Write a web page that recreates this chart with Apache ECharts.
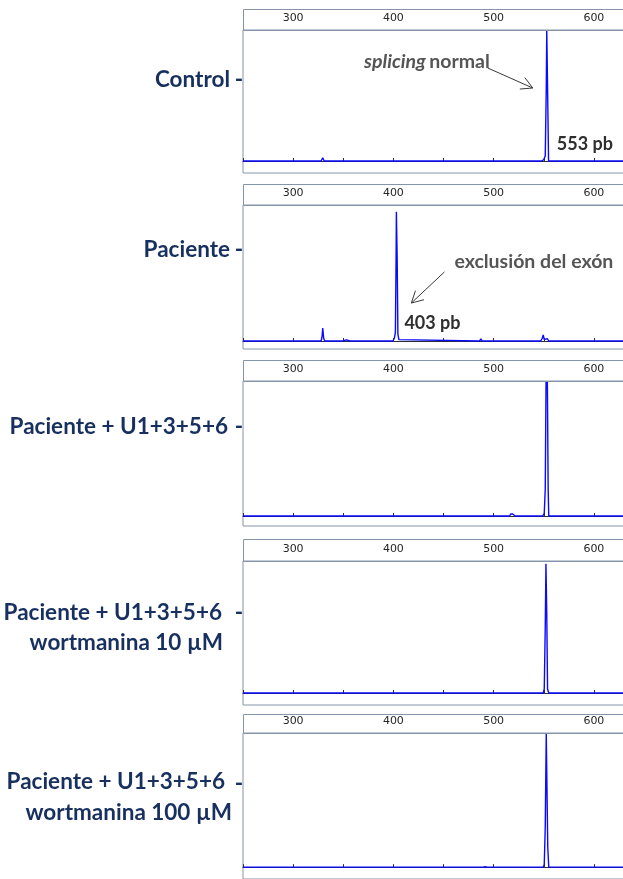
<!DOCTYPE html>
<html>
<head>
<meta charset="utf-8">
<script src="https://cdn.jsdelivr.net/npm/echarts@6/dist/echarts.min.js"></script>
<style>
  html, body { margin: 0; padding: 0; background: #fff; overflow: hidden; }
  #chart { width: 680px; height: 879px; }
</style>
</head>
<body>
<div id="chart"></div>
<script>
// Fragment size axis (pb) and tick labels
const sizeMin = 250;
const sizeMax = 650;
const tickLabels = [300, 400, 500, 600];

// Sample names shown to the left of each electropherogram
const sampleLabels = [
  ['Control'],
  ['Paciente'],
  ['Paciente + U1+3+5+6'],
  ['Paciente + U1+3+5+6', 'wortmanina 10 µM'],
  ['Paciente + U1+3+5+6', 'wortmanina 100 µM']
];

// Electropherogram traces: [fragment size (pb), relative fluorescence]
const traceControl = [
  [250, 0], [328, 0], [329.5, 2.5], [331, 0], [387, 0], [388, 1], [389, 0],
  [401, 0], [402.5, 1.5], [404, 0], [412.5, 0], [413.5, 1], [414.5, 0],
  [443, 0], [444, 0.5], [445, 0], [492, 0], [493, 1.5], [494.5, 0],
  [548, 0], [550, 1], [551.5, 4], [552.5, 55], [553, 100], [554, 45], [554.8, 0],
  [650, 0]
];
const tracePaciente = [
  [250, 0], [255, 0], [256, 0.5], [257, 0], [328, 0], [329, 4], [329.5, 9.5],
  [330.5, 2], [331.5, 0], [350, 0], [351, 1], [353, 0.8], [354, 0],
  [357, 0], [358, 0.5], [359, 0], [362, 0], [363, 0.5], [364, 0],
  [366, 0], [367, 0.5], [368, 0], [399.5, 0], [401, 2], [402, 6.5],
  [402.7, 60], [403, 95], [403.8, 60], [404.5, 5], [405.5, 1], [406.5, 0],
  [486, 0], [487.3, 1.5], [488.5, 0], [547, 0], [548.5, 2], [549.5, 4.5],
  [550.5, 1], [552, 0.5], [553.5, 1.8], [555, 0], [650, 0]
];
const traceU1 = [
  [250, 0], [253, 0], [254, 0.6], [255, 0], [279, 0], [280, 0.8], [281, 0],
  [318, 0], [319, 0.5], [320, 0], [329, 0], [330, 0.8], [331, 0],
  [388, 0], [389, 1], [390, 0], [402.5, 0], [403.5, 0.5], [404.5, 0],
  [410.5, 0], [411.5, 0.5], [412.5, 0], [492, 0], [493, 1.2], [494, 0],
  [516, 0], [517, 1.5], [519, 1.5], [520.5, 1], [521.5, 0],
  [549, 0], [550.5, 2], [551.5, 20], [552.3, 100], [553, 96], [553.6, 100],
  [554.4, 20], [555, 0], [650, 0]
];
const traceWort10 = [
  [250, 0], [402, 0], [403, 0.4], [404, 0], [549.5, 0], [550.5, 3],
  [551.5, 50], [552.2, 98], [553, 60], [553.8, 3], [555, 0], [650, 0]
];
const traceWort100 = [
  [250, 0], [402, 0], [403, 1], [404, 0], [489.5, 0], [490.5, 1],
  [491.5, 0.3], [492.5, 1], [493.5, 0], [514, 0], [515, 0.5], [516, 0],
  [549.5, 0], [550.5, 2], [551.5, 30], [552.5, 100], [553.3, 100], [554, 15],
  [555, 0], [650, 0]
];
const traces = [traceControl, tracePaciente, traceU1, traceWort10, traceWort100];

// Annotated peaks (pb)
const peakNormal = 553;
const peakSkip = 403;

// Panel layout in pixels: frame top, axis line, baseline, frame bottom
const panels = [
  { frameTop: 9,   axisY: 30,  baseY: 161, bottom: 173, labelY: [80],       dashY: 80 },
  { frameTop: 184, axisY: 205, baseY: 341, bottom: 349, labelY: [250],      dashY: 250 },
  { frameTop: 360, axisY: 381, baseY: 516, bottom: 526, labelY: [427],      dashY: 427 },
  { frameTop: 539, axisY: 561, baseY: 693, bottom: 705, labelY: [613, 643], dashY: 613 },
  { frameTop: 714, axisY: 733, baseY: 869, bottom: 881, labelY: [782, 813], dashY: 784 }
];
const labelRight = [[230], [230], [228], [222, 223], [225, 232]];

const plotLeft = 243;
const plotWidth = 401;
const frameColor = '#8594ab';
const traceColor = '#0a0aff';
const labelColor = '#17305f';
const noteColor = '#555555';
const pbColor = '#2f2f2f';
const labelFont = 'bold 22.5px Lato';
const noteFont = 'bold 19.5px Lato';
const pbFont = 'bold 18px Lato';

const chart = echarts.init(document.getElementById('chart'), null, { renderer: 'canvas' });

const grids = [], xAxes = [], yAxes = [], series = [];
panels.forEach((p, i) => {
  grids.push({
    left: plotLeft, width: plotWidth, top: p.axisY, height: p.bottom - p.axisY,
    show: true, borderColor: frameColor, borderWidth: 1, backgroundColor: '#fff'
  });
  xAxes.push({
    gridIndex: i, type: 'value', position: 'top',
    min: sizeMin, max: sizeMax, interval: 50,
    axisLine: { show: true, lineStyle: { color: '#2e2e2e', width: 1 } },
    axisTick: { show: true, inside: false, length: 3, lineStyle: { color: '#2e2e2e' } },
    axisLabel: {
      show: true, margin: 6, color: '#262626', fontSize: 11,
      fontFamily: 'DejaVu Sans',
      formatter: v => (tickLabels.indexOf(v) >= 0 ? String(v) : '')
    },
    splitLine: { show: false }
  });
  // baseline sits a few pixels above the frame bottom
  const yMax = 100;
  const yMin = -(p.bottom - p.baseY) / (p.baseY - p.axisY) * yMax;
  yAxes.push({
    gridIndex: i, type: 'value', min: yMin, max: yMax, show: false
  });
  series.push({
    type: 'line', xAxisIndex: i, yAxisIndex: i, data: traces[i],
    showSymbol: false, symbol: 'none', smooth: false, clip: true,
    lineStyle: { color: traceColor, width: 1.4 }, silent: true, animation: false
  });
});

chart.setOption({
  animation: false,
  grid: grids, xAxis: xAxes, yAxis: yAxes, series: series
});

// Decorations: label strip frames, sample names, peak annotations
const g = [];
panels.forEach((p, i) => {
  g.push({
    type: 'rect', z: 10, silent: true,
    shape: { x: plotLeft + 0.5, y: p.frameTop + 0.5, width: plotWidth, height: p.axisY - p.frameTop },
    style: { fill: 'none', stroke: frameColor, lineWidth: 1 }
  });
  sampleLabels[i].forEach((txt, k) => {
    g.push({
      type: 'text', z: 20, silent: true,
      x: labelRight[i][k], y: p.labelY[k],
      style: {
        text: txt, fill: labelColor, font: labelFont,
        align: 'right', verticalAlign: 'middle'
      }
    });
  });
  g.push({
    type: 'text', z: 20, silent: true, x: 239, y: p.dashY,
    style: { text: '-', fill: labelColor, font: labelFont, align: 'center', verticalAlign: 'middle' }
  });
});

function arrow(x1, y1, x2, y2) {
  const ang = Math.atan2(y2 - y1, x2 - x1);
  const len = 13, spread = 0.5;
  const h1 = [x2 - len * Math.cos(ang - spread), y2 - len * Math.sin(ang - spread)];
  const h2 = [x2 - len * Math.cos(ang + spread), y2 - len * Math.sin(ang + spread)];
  const st = { stroke: '#3a3a3a', lineWidth: 1, fill: 'none' };
  g.push({ type: 'line', z: 20, silent: true, shape: { x1, y1, x2, y2 }, style: st });
  g.push({ type: 'polyline', z: 20, silent: true, shape: { points: [h1, [x2, y2], h2] }, style: st });
}

const xNormal = chart.convertToPixel({ xAxisIndex: 0 }, peakNormal);
const xSkip = chart.convertToPixel({ xAxisIndex: 1 }, peakSkip);

g.push({
  type: 'text', z: 20, silent: true, x: xNormal - 57, y: 62,
  style: {
    text: '{i|splicing} {b|normal}', align: 'right', verticalAlign: 'middle',
    rich: {
      i: { fill: noteColor, font: 'italic bold 19.5px Lato' },
      b: { fill: noteColor, font: noteFont }
    }
  }
});
arrow(xNormal - 59, 68, xNormal - 14, 88);
g.push({
  type: 'text', z: 20, silent: true, x: xNormal + 10, y: 144,
  style: { text: `${peakNormal} pb`, fill: pbColor, font: pbFont, align: 'left', verticalAlign: 'middle' }
});

g.push({
  type: 'text', z: 20, silent: true, x: xSkip + 58, y: 262,
  style: { text: 'exclusión del exón', fill: noteColor, font: noteFont, align: 'left', verticalAlign: 'middle' }
});
arrow(xSkip + 48, 272, xSkip + 15, 303);
g.push({
  type: 'text', z: 20, silent: true, x: xSkip + 8, y: 323,
  style: { text: `${peakSkip} pb`, fill: pbColor, font: pbFont, align: 'left', verticalAlign: 'middle' }
});

chart.setOption({ graphic: { elements: g } });
</script>
</body>
</html>
